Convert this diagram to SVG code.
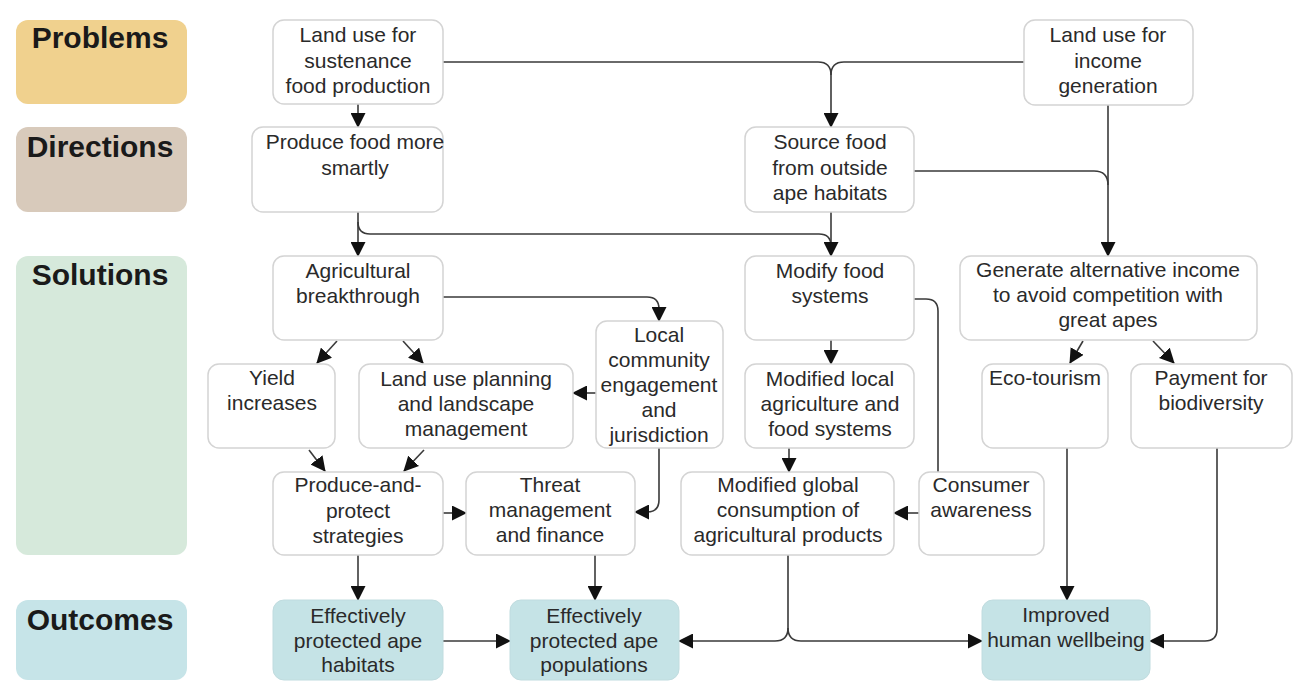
<svg xmlns="http://www.w3.org/2000/svg" width="1299" height="683" viewBox="0 0 1299 683">
<style>
.lbl{font-family:"Liberation Sans",Arial,sans-serif;font-weight:bold;font-size:30px;fill:#1a1a1a;text-anchor:middle}
.t{font-family:"Liberation Sans",Arial,sans-serif;font-size:21px;fill:#2a2a2a;text-anchor:middle}
.box{fill:#ffffff;stroke:#d4d4d4;stroke-width:1.5}
.out{fill:#c5e3e6;stroke:#c0dcdf;stroke-width:1}
.c{fill:none;stroke:#3a3a3a;stroke-width:1.6}
</style>
<defs>
<marker id="ah" markerUnits="userSpaceOnUse" markerWidth="15" markerHeight="15" viewBox="0 0 15 15" refX="14" refY="7.5" orient="auto">
<path d="M0,0 L15,7.5 L0,15 Z" fill="#111"/>
</marker>
</defs>
<rect width="1299" height="683" fill="#ffffff"/>

<g id="label-problems"><rect x="16" y="20" width="171" height="84" rx="12" fill="#f0d18e"/><text class="lbl" x="100" y="48">Problems</text></g>
<g id="label-directions"><rect x="16" y="127" width="171" height="85" rx="12" fill="#d8cabb"/><text class="lbl" x="100" y="157">Directions</text></g>
<g id="label-solutions"><rect x="16" y="256" width="171" height="299" rx="12" fill="#d6e9db"/><text class="lbl" x="100" y="285">Solutions</text></g>
<g id="label-outcomes"><rect x="16" y="600" width="171" height="80" rx="12" fill="#c6e4e8"/><text class="lbl" x="100" y="630">Outcomes</text></g>

<g id="connectors">
<path class="c" d="M358,104 V127" marker-end="url(#ah)"/>
<path class="c" d="M443,62 H818 Q831,62 831,75 V127" marker-end="url(#ah)"/>
<path class="c" d="M1024,62 H844 Q831,62 831,75"/>
<path class="c" d="M1108,105 V256" marker-end="url(#ah)"/>
<path class="c" d="M914,171 H1094 Q1108,171 1108,185"/>
<path class="c" d="M358,212 V256" marker-end="url(#ah)"/>
<path class="c" d="M358,222 Q358,234 370,234 H819 Q831,234 831,246"/>
<path class="c" d="M831,212 V256" marker-end="url(#ah)"/>
<path class="c" d="M443,297 H647 Q659,297 659,309 V321" marker-end="url(#ah)"/>
<path class="c" d="M337,341 L317,363" marker-end="url(#ah)"/>
<path class="c" d="M403,341 L423,363" marker-end="url(#ah)"/>
<path class="c" d="M596,393 H573" marker-end="url(#ah)"/>
<path class="c" d="M659,448 V500 Q659,512 647,512 H635" marker-end="url(#ah)"/>
<path class="c" d="M309,450 L325,471" marker-end="url(#ah)"/>
<path class="c" d="M424,450 L404,471" marker-end="url(#ah)"/>
<path class="c" d="M443,513 H466" marker-end="url(#ah)"/>
<path class="c" d="M358,555 V600" marker-end="url(#ah)"/>
<path class="c" d="M595,555 V600" marker-end="url(#ah)"/>
<path class="c" d="M443,641 H510" marker-end="url(#ah)"/>
<path class="c" d="M831,340 V364" marker-end="url(#ah)"/>
<path class="c" d="M914,299 H926 Q938,299 938,311 V472"/>
<path class="c" d="M789,448 V472" marker-end="url(#ah)"/>
<path class="c" d="M919,513 H894" marker-end="url(#ah)"/>
<path class="c" d="M788,555 V628 Q788,641 775,641 H679" marker-end="url(#ah)"/>
<path class="c" d="M788,628 Q788,641 801,641 H982" marker-end="url(#ah)"/>
<path class="c" d="M1067,448 V600" marker-end="url(#ah)"/>
<path class="c" d="M1217,448 V629 Q1217,641 1205,641 H1150" marker-end="url(#ah)"/>
<path class="c" d="M1083,341 L1070,363" marker-end="url(#ah)"/>
<path class="c" d="M1153,341 L1174,363" marker-end="url(#ah)"/>
</g>

<g id="n-sustenance"><rect class="box" x="273" y="20" width="170" height="84" rx="11"/><text class="t" x="358" y="42">Land use for</text><text class="t" x="358" y="68">sustenance</text><text class="t" x="358" y="93">food production</text></g>
<g id="n-income"><rect class="box" x="1024" y="20" width="169" height="85" rx="11"/><text class="t" x="1108" y="42">Land use for</text><text class="t" x="1108" y="68">income</text><text class="t" x="1108" y="93">generation</text></g>
<g id="n-smartly"><rect class="box" x="252" y="127" width="191" height="85" rx="11"/><text class="t" x="355" y="149">Produce food more</text><text class="t" x="355" y="175">smartly</text></g>
<g id="n-source"><rect class="box" x="745" y="127" width="169" height="85" rx="11"/><text class="t" x="830" y="149">Source food</text><text class="t" x="830" y="175">from outside</text><text class="t" x="830" y="200">ape habitats</text></g>
<g id="n-agri"><rect class="box" x="273" y="256" width="170" height="84" rx="11"/><text class="t" x="358" y="278">Agricultural</text><text class="t" x="358" y="303">breakthrough</text></g>
<g id="n-modify"><rect class="box" x="745" y="256" width="169" height="84" rx="11"/><text class="t" x="830" y="278">Modify food</text><text class="t" x="830" y="303">systems</text></g>
<g id="n-generate"><rect class="box" x="960" y="256" width="297" height="84" rx="11"/><text class="t" x="1108" y="277">Generate alternative income</text><text class="t" x="1108" y="302">to avoid competition with</text><text class="t" x="1108" y="327">great apes</text></g>
<g id="n-yield"><rect class="box" x="208" y="364" width="127" height="84" rx="11"/><text class="t" x="272" y="385">Yield</text><text class="t" x="272" y="410">increases</text></g>
<g id="n-landuse"><rect class="box" x="359" y="364" width="214" height="84" rx="11"/><text class="t" x="466" y="386">Land use planning</text><text class="t" x="466" y="411">and landscape</text><text class="t" x="466" y="436">management</text></g>
<g id="n-local"><rect class="box" x="596" y="321" width="127" height="127" rx="11"/><text class="t" x="659" y="342">Local</text><text class="t" x="659" y="367">community</text><text class="t" x="659" y="392">engagement</text><text class="t" x="659" y="417">and</text><text class="t" x="659" y="442">jurisdiction</text></g>
<g id="n-modlocal"><rect class="box" x="745" y="364" width="169" height="84" rx="11"/><text class="t" x="830" y="386">Modified local</text><text class="t" x="830" y="411">agriculture and</text><text class="t" x="830" y="436">food systems</text></g>
<g id="n-eco"><rect class="box" x="982" y="364" width="126" height="84" rx="11"/><text class="t" x="1045" y="385">Eco-tourism</text></g>
<g id="n-payment"><rect class="box" x="1131" y="364" width="161" height="84" rx="11"/><text class="t" x="1211" y="385">Payment for</text><text class="t" x="1211" y="410">biodiversity</text></g>
<g id="n-pap"><rect class="box" x="273" y="472" width="170" height="83" rx="11"/><text class="t" x="358" y="492">Produce-and-</text><text class="t" x="358" y="518">protect</text><text class="t" x="358" y="543">strategies</text></g>
<g id="n-threat"><rect class="box" x="466" y="472" width="169" height="83" rx="11"/><text class="t" x="550" y="492">Threat</text><text class="t" x="550" y="517">management</text><text class="t" x="550" y="542">and finance</text></g>
<g id="n-modglobal"><rect class="box" x="681" y="472" width="213" height="83" rx="11"/><text class="t" x="788" y="492">Modified global</text><text class="t" x="788" y="517">consumption of</text><text class="t" x="788" y="542">agricultural products</text></g>
<g id="n-consumer"><rect class="box" x="919" y="472" width="125" height="83" rx="11"/><text class="t" x="981" y="492">Consumer</text><text class="t" x="981" y="517">awareness</text></g>
<g id="n-habitats"><rect class="out" x="273" y="600" width="170" height="80" rx="11"/><text class="t" x="358" y="623">Effectively</text><text class="t" x="358" y="648">protected ape</text><text class="t" x="358" y="672">habitats</text></g>
<g id="n-populations"><rect class="out" x="510" y="600" width="169" height="80" rx="11"/><text class="t" x="594" y="623">Effectively</text><text class="t" x="594" y="648">protected ape</text><text class="t" x="594" y="672">populations</text></g>
<g id="n-wellbeing"><rect class="out" x="982" y="600" width="168" height="80" rx="11"/><text class="t" x="1066" y="622">Improved</text><text class="t" x="1066" y="647">human wellbeing</text></g>
</svg>
